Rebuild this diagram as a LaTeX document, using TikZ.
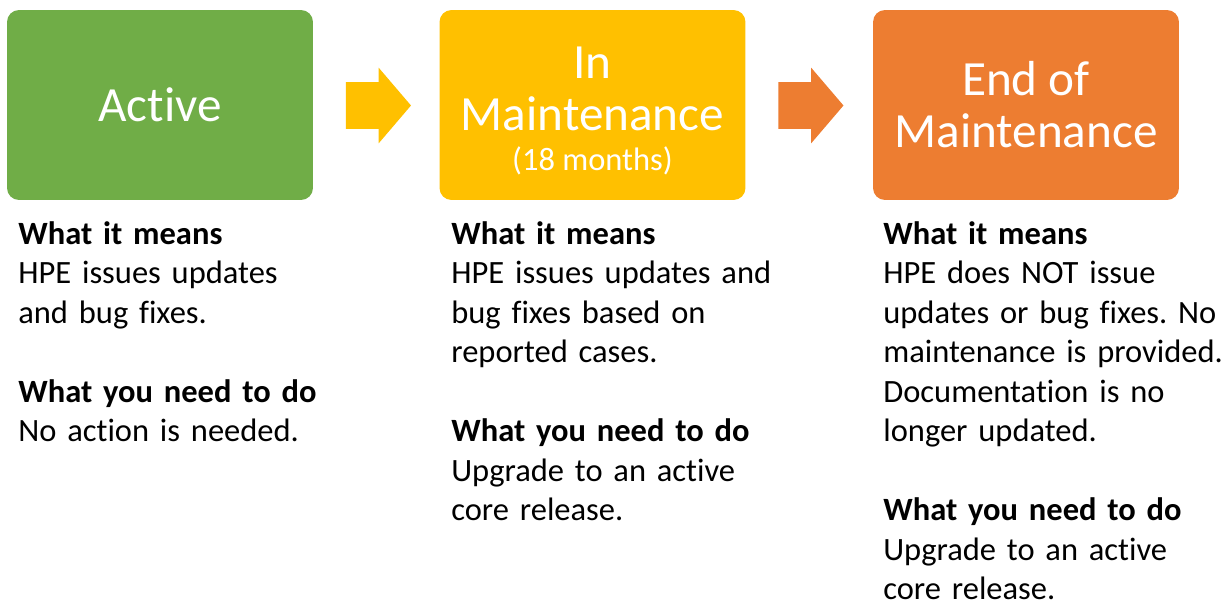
\documentclass[tikz,border=0pt]{standalone}
\usepackage{fontspec}
\setmainfont[Ligatures=NoCommon]{Carlito}
\usetikzlibrary{positioning,shapes.arrows}
\definecolor{ActiveColor}{HTML}{70AD47}
\definecolor{MaintColor}{HTML}{FFC000}
\definecolor{EndColor}{HTML}{ED7D31}
\frenchspacing
\tikzset{stage/.style={rounded corners=0.24cm, minimum width=6.12cm, minimum height=3.8cm,
			text=white, align=center, inner sep=0pt, font=\fontsize{28}{29.5}\selectfont},
	stagetext/.style={text=white, align=center, inner sep=0pt, font=\fontsize{28}{29.5}\selectfont},
	flow/.style={single arrow, minimum height=1.3cm, minimum width=1.5cm, inner xsep=0pt, inner ysep=0.46cm,
			single arrow head extend=0.29cm, single arrow tip angle=99},
	info/.style={anchor=north west, align=left, text width=7.2cm, inner sep=0pt,
			font=\fontsize{18.5}{22.5}\selectfont}}

\begin{document}
\begin{tikzpicture}[x=0.02cm,y=-0.02cm]
	\useasboundingbox (0,0) rectangle (1223,600);
	% the three stages
	\node[stage, fill=ActiveColor] (active) at (160,105) {Active};
	\node[stage, fill=MaintColor] (maint) at (592.5,105) {};
	\node[stagetext] (mainttext) at (592.5,111) {In\\Maintenance\\[-7pt]{\fontsize{18.5}{22}\selectfont(18 months)}};
	\node[stage, fill=EndColor] (eom) at (1026,105) {End of\\Maintenance};
	% arrows between them
	\node[flow, fill=MaintColor] (arr1) at (368.5,105.5) {};
	\node[flow, fill=EndColor] (arr2) at (801,105.5) {};
	% what it means
	\node[info] (txt1) at (18,221) {\textbf{What it means}\\HPE issues updates\\and bug fixes.\\[22.5pt]\textbf{What you need to do}\\No action is needed.};
	\node[info] (txt2) at (451,221) {\textbf{What it means}\\HPE issues updates and\\bug fixes based on\\reported cases.\\[22.5pt]\textbf{What you need to do}\\Upgrade to an active\\core release.};
	\node[info] (txt3) at (883,221) {\textbf{What it means}\\HPE does NOT issue\\updates or bug fixes. No\\maintenance is provided.\\Documentation is no\\longer updated.\\[22.5pt]\textbf{What you need to do}\\Upgrade to an active\\core release.};
\end{tikzpicture}
\end{document}
